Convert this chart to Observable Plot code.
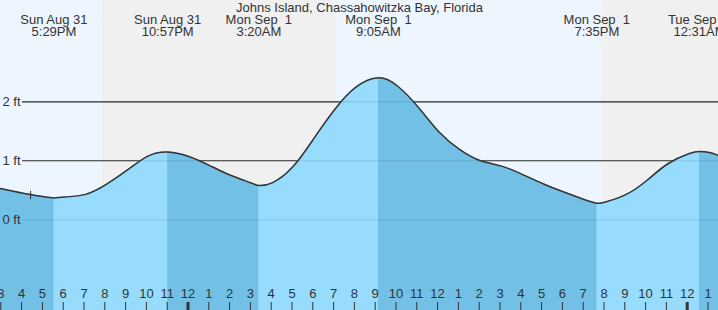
<!DOCTYPE html>
<html>
<head>
<meta charset="utf-8">
<script src="https://cdn.jsdelivr.net/npm/d3@7"></script>
<script src="https://cdn.jsdelivr.net/npm/@observablehq/plot@0.6"></script>
<style>
  html, body { margin: 0; padding: 0; background: #fff; }
</style>
</head>
<body>
<script>
// ---- Data (hours relative to midnight Sun Aug 31 / Mon Sep 1; heights in ft) ----
const title = "Johns Island, Chassahowitzka Bay, Florida";

const extremeTimes   = [-6.517, -1.05, 3.333, 9.083, 19.583, 24.517];
const extremeHeights = [0.37, 1.15, 0.58, 2.41, 0.28, 1.16];
const extremeTypes   = ["low", "high", "low", "high", "low", "high"];
const extremeDays    = ["Sun Aug 31", "Sun Aug 31", "Mon Sep\u00a0 1", "Mon Sep\u00a0 1", "Mon Sep\u00a0 1", "Tue Sep\u00a0 2"];
const extremeClocks  = ["5:29PM", "10:57PM", "3:20AM", "9:05AM", "7:35PM", "12:31AM"];

const sampleTimes   = [-9.1, -8, -7, -6, -5, -4, -3, -2, 0, 1, 2, 3, 4, 5, 6, 7, 8,
                       10, 11, 12, 13, 14, 15, 16, 17, 18, 19, 20, 21, 22, 23, 24, 25, 25.45];
const sampleHeights = [0.53, 0.45, 0.39, 0.385, 0.43, 0.60, 0.84, 1.08, 1.07, 0.915, 0.75, 0.62, 0.63, 0.91, 1.39, 1.88, 2.25,
                       2.27, 1.91, 1.49, 1.19, 1.00, 0.91, 0.77, 0.61, 0.47, 0.34, 0.30, 0.43, 0.67, 0.95, 1.12, 1.14, 1.09];

// sunset, sunrise, sunset
const sunTimes = [-4.18, 7.07, 19.81];
const sunKinds = ["sunset", "sunrise", "sunset"];

const nowTime = -7.64;
const nowHeight = 0.41;

const yTicks = [0, 1, 2];
const hourTicks = d3.range(-9, 26);

// ---- Layout / style ----
const W = 718, H = 310;
const xDomain = [-9.087, 25.433];
const yDomain = [-1.542, 3.722];
const colors = {
  day: "#edf6ff", night: "#f0f0f0",
  rising: "#97dcfd", falling: "#72c0e5",
  ink: "#333"
};

// ---- Build tables ----
const tide = sampleTimes.map((t, i) => ({t, h: sampleHeights[i]}))
  .concat(extremeTimes.map((t, i) => ({t, h: extremeHeights[i]})))
  .sort((a, b) => a.t - b.t);

const extremes = extremeTimes.map((t, i) => ({
  t, h: extremeHeights[i], type: extremeTypes[i],
  label: extremeDays[i] + "\n" + extremeClocks[i]
}));

const bandEdges = [xDomain[0], ...sunTimes, xDomain[1]];
const bands = [];
for (let i = 0; i < bandEdges.length - 1; i++) {
  const isDay = i === 0 ? true : sunKinds[i - 1] === "sunrise";
  bands.push({x1: bandEdges[i], x2: bandEdges[i + 1], fill: isDay ? colors.day : colors.night});
}

const tideEdges = [xDomain[0], ...extremeTimes, xDomain[1]];
const falling = [];
for (let i = 0; i < tideEdges.length - 1; i++) {
  const nextType = i < extremeTypes.length ? extremeTypes[i] : (extremeTypes[extremeTypes.length - 1] === "high" ? "low" : "high");
  if (nextType === "low") falling.push([tideEdges[i], tideEdges[i + 1]]);
}

const hourLabel = h => { const m = ((h % 12) + 12) % 12; return String(m === 0 ? 12 : m); };
const isMidnight = h => ((h % 24) + 24) % 24 === 0;
const curve = "natural";

const plot = Plot.plot({
  width: W, height: H, margin: 0,
  x: {domain: xDomain, axis: null},
  y: {domain: yDomain, axis: null},
  style: {fontFamily: "'Liberation Sans', Arial, sans-serif", fontSize: "13px", background: "transparent", color: colors.ink},
  marks: [
    Plot.rect(bands, {x1: "x1", x2: "x2", y1: yDomain[0], y2: yDomain[1], fill: d => d.fill}),
    Plot.ruleY(yTicks, {stroke: colors.ink, strokeWidth: 1.1, insetLeft: 22}),
    Plot.areaY(tide, {x: "t", y1: yDomain[0], y2: "h", fill: colors.rising, curve}),
    Plot.areaY(tide, {x: "t", y1: yDomain[0], y2: "h", fill: colors.falling, curve}),
    Plot.ruleY(yTicks, {stroke: "#000", strokeOpacity: 0.1, strokeWidth: 1.1, insetLeft: 22}),
    Plot.line(tide, {x: "t", y: "h", stroke: colors.ink, strokeWidth: 1.5, curve}),
    Plot.ruleX([{t: nowTime, h: nowHeight}], {x: "t", y1: d => d.h - 0.07, y2: d => d.h + 0.07, stroke: colors.ink, strokeWidth: 1}),
    Plot.text(yTicks, {y: d => d, text: d => `${d} ft`, frameAnchor: "left", textAnchor: "start", dx: 2, fill: colors.ink}),
    Plot.ruleX(hourTicks, {x: d => d, stroke: colors.ink, strokeWidth: d => isMidnight(d) ? 3 : 1, insetTop: 302, dx: -1.5}),
    Plot.text(hourTicks, {x: d => d, text: hourLabel, frameAnchor: "bottom", dy: -13, dx: -1.5, fill: colors.ink}),
    Plot.text(extremes, {x: "t", text: "label", frameAnchor: "top", lineAnchor: "top", dy: 14.1, lineHeight: 0.98, fill: colors.ink}),
    Plot.text([title], {text: d => d, frameAnchor: "top", lineAnchor: "top", dy: 2.1, fill: colors.ink})
  ]
});

document.body.appendChild(plot);

// Clip the darker (falling tide) water to the intervals between each high and the following low.
const xs = plot.scale("x");
const svg = d3.select(plot);
const defs = svg.insert("defs", ":first-child");
defs.append("clipPath").attr("id", "falling-clip")
  .selectAll("rect").data(falling).join("rect")
  .attr("x", d => xs.apply(d[0]))
  .attr("width", d => xs.apply(d[1]) - xs.apply(d[0]))
  .attr("y", 0).attr("height", H);
svg.selectAll('g[aria-label="area"]').filter((d, i) => i === 1).attr("clip-path", "url(#falling-clip)");
</script>
</body>
</html>
